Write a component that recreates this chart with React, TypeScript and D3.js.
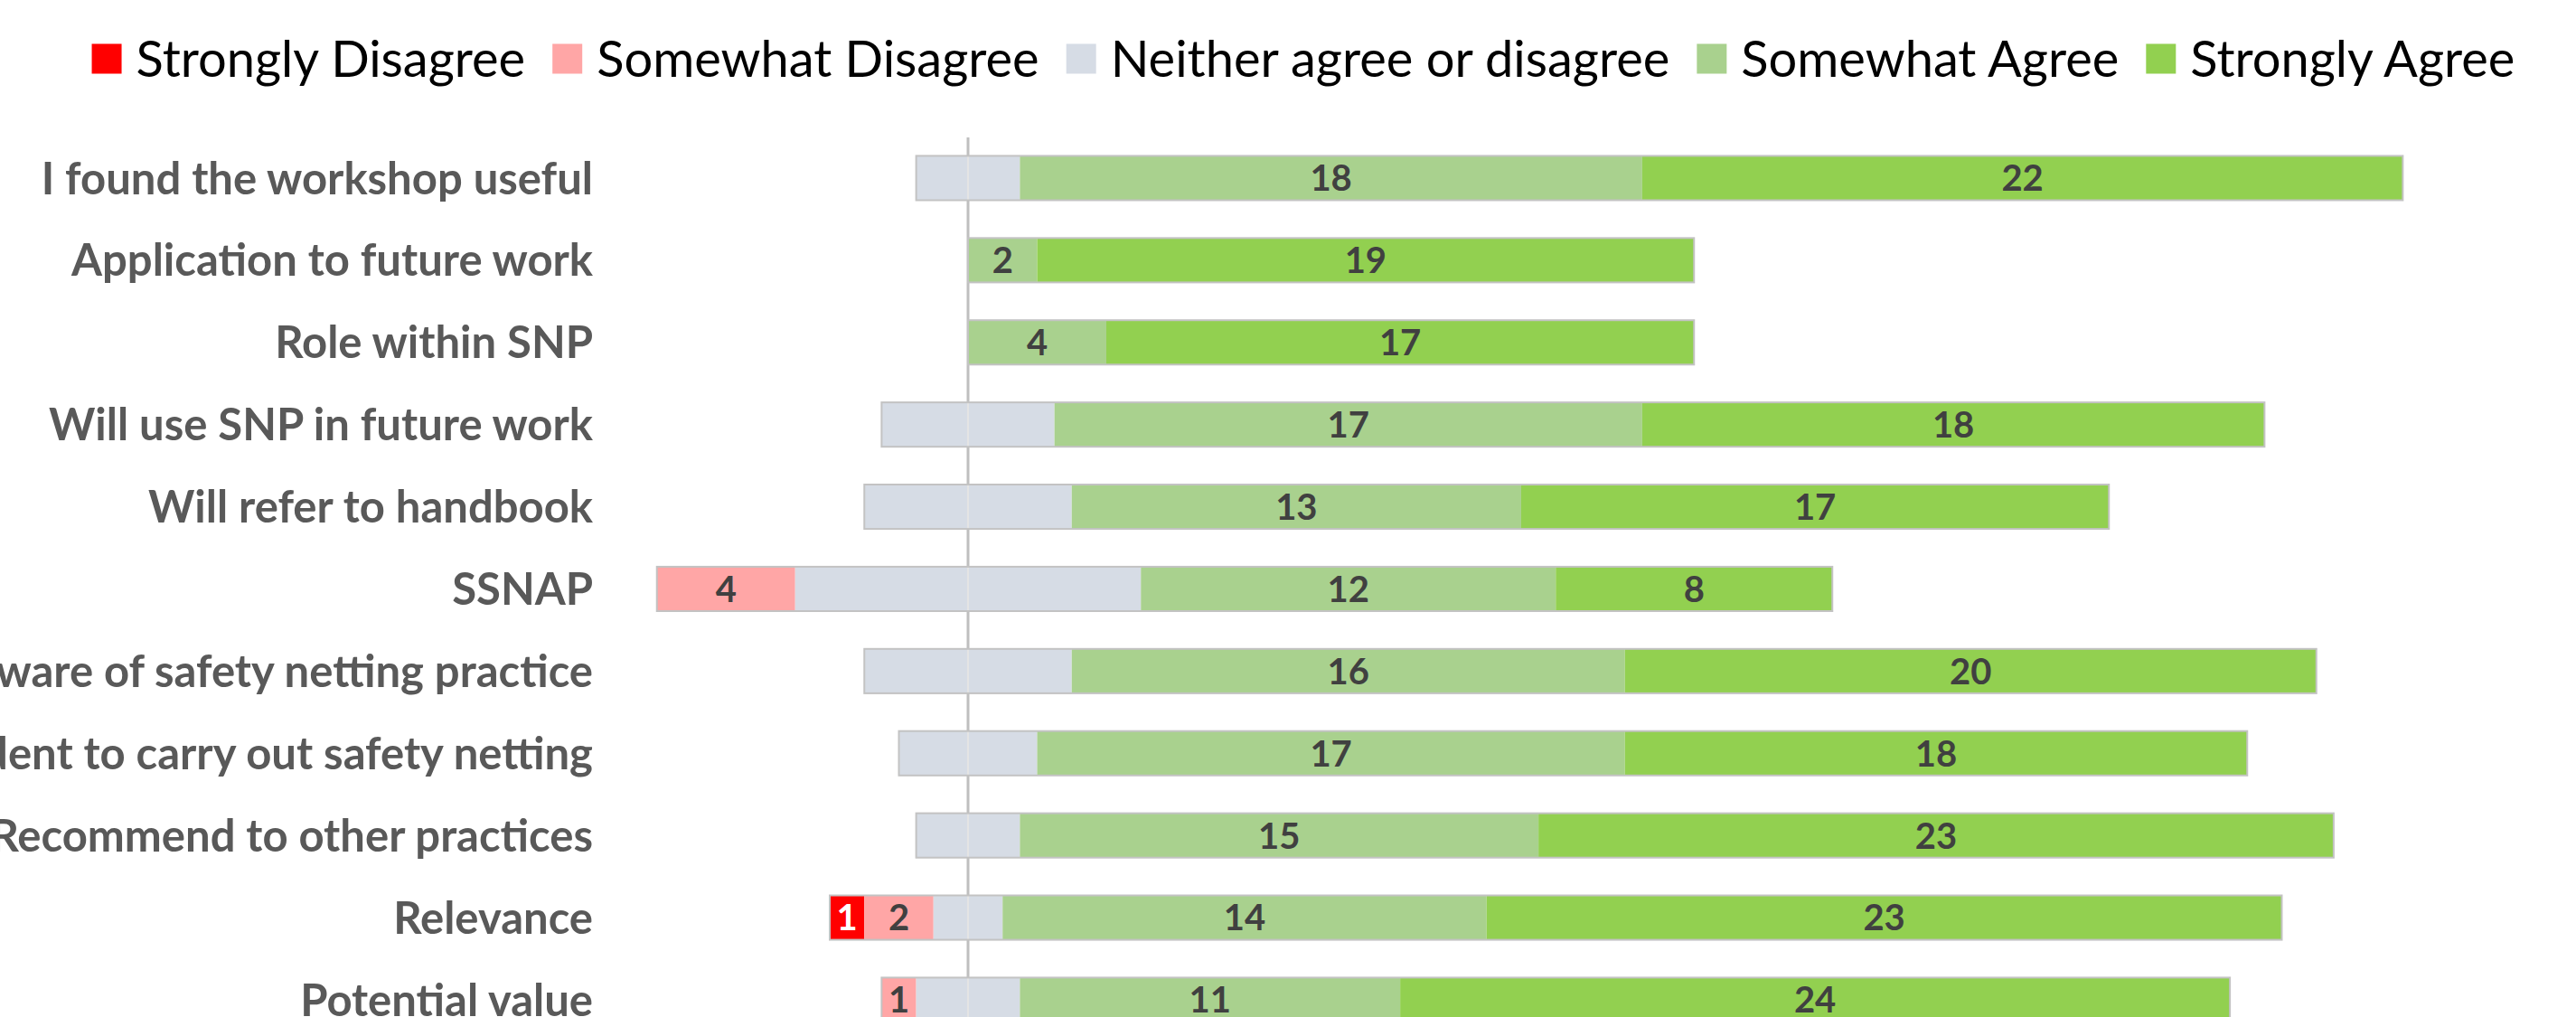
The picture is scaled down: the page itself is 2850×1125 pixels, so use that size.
import React, { useEffect, useRef } from "react";
import * as d3 from "d3";

const categories = [
  "I found the workshop useful",
  "Application to future work",
  "Role within SNP",
  "Will use SNP in future work",
  "Will refer to handbook",
  "SSNAP",
  "Aware of safety netting practice",
  "Confident to carry out safety netting",
  "Recommend to other practices",
  "Relevance",
  "Potential value",
];
const stronglyDisagree = [0, 0, 0, 0, 0, 0, 0, 0, 0, 1, 0];
const somewhatDisagree = [0, 0, 0, 0, 0, 4, 0, 0, 0, 2, 1];
const neutral = [3, 0, 0, 5, 6, 10, 6, 4, 3, 2, 3];
const somewhatAgree = [18, 2, 4, 17, 13, 12, 16, 17, 15, 14, 11];
const stronglyAgree = [22, 19, 17, 18, 17, 8, 20, 18, 23, 23, 24];
const seriesNames = [
  "Strongly Disagree",
  "Somewhat Disagree",
  "Neither agree or disagree",
  "Somewhat Agree",
  "Strongly Agree",
];
const seriesColors = ["#FF0000", "#FFA6A6", "#D6DCE5", "#A9D18E", "#92D050"];

const W = 2850;
const H = 1125;
const FONT = "Lato, 'Open Sans', 'DejaVu Sans', sans-serif";

export default function App() {
  const ref = useRef<SVGSVGElement>(null);
  useEffect(() => {
    const svg = d3.select(ref.current);
    svg.selectAll("*").remove();

    const x = d3.scaleLinear().domain([-28, 46]).range([0, 2830.5]);
    const y = d3
      .scaleBand<string>()
      .domain(categories)
      .range([151.5, 1151.4])
      .paddingInner(0.46)
      .paddingOuter(0.23);

    type Seg = { cat: string; s: number; x0: number; x1: number; v: number };
    const segs: Seg[] = [];
    const outlines: { cat: string; x0: number; x1: number }[] = [];
    categories.forEach((c, i) => {
      const vals = [stronglyDisagree[i], somewhatDisagree[i], neutral[i], somewhatAgree[i], stronglyAgree[i]];
      let start = -(vals[0] + vals[1] + vals[2] / 2);
      const left = start;
      vals.forEach((v, s) => {
        if (v > 0) segs.push({ cat: c, s, x0: start, x1: start + v, v });
        start += v;
      });
      outlines.push({ cat: c, x0: left, x1: start });
    });

    // zero line
    svg
      .append("line")
      .attr("x1", x(0))
      .attr("x2", x(0))
      .attr("y1", 152)
      .attr("y2", H)
      .attr("stroke", "#BFBFBF")
      .attr("stroke-width", 3);

    const g = svg.append("g");
    g.selectAll("rect.seg")
      .data(segs)
      .join("rect")
      .attr("class", "seg")
      .attr("x", (d) => x(d.x0))
      .attr("width", (d) => x(d.x1) - x(d.x0))
      .attr("y", (d) => y(d.cat)!)
      .attr("height", y.bandwidth())
      .attr("fill", (d) => seriesColors[d.s]);

    // faint zero line through neutral segments
    g.selectAll("line.nz")
      .data(segs.filter((d) => d.s === 2))
      .join("line")
      .attr("x1", x(0))
      .attr("x2", x(0))
      .attr("y1", (d) => y(d.cat)!)
      .attr("y2", (d) => y(d.cat)! + y.bandwidth())
      .attr("stroke", "#E4E4E4")
      .attr("stroke-width", 2);

    g.selectAll("rect.outline")
      .data(outlines)
      .join("rect")
      .attr("class", "outline")
      .attr("x", (d) => x(d.x0))
      .attr("width", (d) => x(d.x1) - x(d.x0))
      .attr("y", (d) => y(d.cat)!)
      .attr("height", y.bandwidth())
      .attr("fill", "none")
      .attr("stroke", "#C3C3C3")
      .attr("stroke-width", 2);

    // value labels
    g.selectAll("text.val")
      .data(segs.filter((d) => d.s !== 2))
      .join("text")
      .attr("class", "val")
      .attr("x", (d) => (x(d.x0) + x(d.x1)) / 2)
      .attr("y", (d) => y(d.cat)! + y.bandwidth() / 2)
      .attr("dy", "0.36em")
      .attr("text-anchor", "middle")
      .attr("font-family", FONT)
      .attr("font-weight", "bold")
      .attr("font-size", 40)
      .attr("fill", (d) => (d.s === 0 ? "#FFFFFF" : "#404040"))
      .text((d) => d.v);

    // category labels
    svg
      .append("g")
      .selectAll("text")
      .data(categories)
      .join("text")
      .attr("x", 656)
      .attr("y", (d) => y(d)! + y.bandwidth() / 2)
      .attr("dy", "0.36em")
      .attr("text-anchor", "end")
      .attr("font-family", FONT)
      .attr("font-weight", "bold")
      .attr("font-size", 49)
      .attr("fill", "#595959")
      .text((d) => d);

    // legend
    const lg = svg.append("g");
    const box = 33;
    const gapText = 16;
    const gapItem = 30;
    const items = seriesNames.map((n, i) => {
      const t = lg
        .append("text")
        .attr("font-family", FONT)
        .attr("font-size", 56)
        .attr("fill", "#000")
        .attr("dy", "0.36em")
        .attr("y", 65)
        .text(n);
      const w = (t.node() as SVGTextElement).getComputedTextLength();
      return { t, w, i };
    });
    const total = d3.sum(items, (d) => box + gapText + d.w) + gapItem * (items.length - 1);
    let cx = 1442 - total / 2;
    items.forEach((it) => {
      lg.append("rect")
        .attr("x", cx)
        .attr("y", 65 - box / 2)
        .attr("width", box)
        .attr("height", box)
        .attr("fill", seriesColors[it.i]);
      it.t.attr("x", cx + box + gapText);
      cx += box + gapText + it.w + gapItem;
    });
  }, []);

  return (
    <svg
      ref={ref}
      width={W}
      height={H}
      style={{ position: "absolute", left: 0, top: 0, background: "#fff" }}
    />
  );
}
